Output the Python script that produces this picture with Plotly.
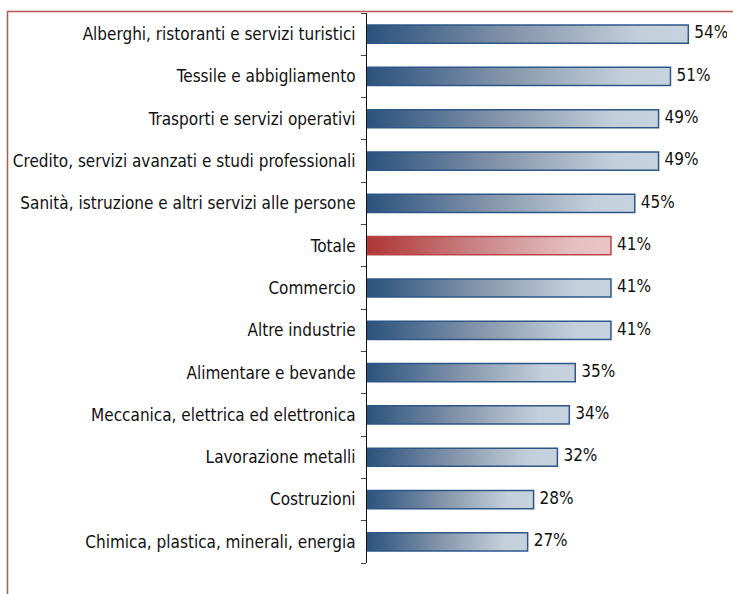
import plotly.graph_objects as go

categories = [
    "Alberghi, ristoranti e servizi turistici",
    "Tessile e abbigliamento",
    "Trasporti e servizi operativi",
    "Credito, servizi avanzati e studi professionali",
    "Sanità, istruzione e altri servizi alle persone",
    "Totale",
    "Commercio",
    "Altre industrie",
    "Alimentare e bevande",
    "Meccanica, elettrica ed elettronica",
    "Lavorazione metalli",
    "Costruzioni",
    "Chimica, plastica, minerali, energia",
]
values = [54, 51, 49, 49, 45, 41, 41, 41, 35, 34, 32, 28, 27]
highlight = "Totale"

BLUE_GRAD = [[0, "#2b527e"], [0.45, "#8394aa"], [0.85, "#c3cfdb"], [1, "#c6d2de"]]
RED_GRAD = [[0, "#b03536"], [0.45, "#c98485"], [0.85, "#e5c0c1"], [1, "#e8c5c6"]]
BLUE_LINE = "#2e5788"
RED_LINE = "#bb4446"
FONT = "DejaVu Sans Condensed, DejaVu Sans, sans-serif"
half = 0.215

PLOT_L, PLOT_R, PLOT_T, PLOT_B = 367, 6, 13, 31
PW = 733 - PLOT_L - PLOT_R
PH = 594 - PLOT_T - PLOT_B

fig = go.Figure()
for i, (cat, v) in enumerate(zip(categories, values)):
    is_hl = cat == highlight
    fig.add_trace(go.Scatter(
        x=[0, v, v, 0, 0],
        y=[i - half, i - half, i + half, i + half, i - half],
        mode="lines",
        fill="toself",
        fillgradient=dict(type="horizontal", colorscale=RED_GRAD if is_hl else BLUE_GRAD, start=0, stop=v),
        line=dict(color=RED_LINE if is_hl else BLUE_LINE, width=1.5),
        hoverinfo="skip",
        showlegend=False,
        yaxis="y",
    ))

fig.add_trace(go.Scatter(
    x=values,
    y=list(range(len(values))),
    mode="markers+text",
    marker=dict(size=8, opacity=0),
    text=[f"{v}%" for v in values],
    textposition="middle right",
    textfont=dict(family=FONT, size=17, color="#111111"),
    showlegend=False,
    hoverinfo="skip",
))

n = len(categories)
fig.update_layout(
    width=733,
    height=594,
    margin=dict(l=PLOT_L, r=PLOT_R, t=PLOT_T, b=PLOT_B),
    paper_bgcolor="white",
    plot_bgcolor="white",
    xaxis=dict(range=[0, 60.5], visible=False, fixedrange=True),
    yaxis=dict(
        range=[n - 0.5, -0.5],
        tickvals=list(range(n)),
        ticktext=categories,
        ticks="outside",
        ticklen=7,
        tickcolor="rgba(0,0,0,0)",
        showgrid=False,
        zeroline=False,
        showline=False,
        tickfont=dict(family=FONT, size=17, color="#111111"),
    ),
    yaxis2=dict(
        overlaying="y",
        side="left",
        range=[n - 0.5, -0.5],
        tickvals=[k - 0.5 for k in range(n + 1)],
        showticklabels=False,
        ticks="outside",
        ticklen=5,
        tickcolor="#444444",
        showline=True,
        linecolor="#111111",
        linewidth=1,
        showgrid=False,
        zeroline=False,
    ),
    shapes=[dict(
        type="rect", xref="paper", yref="paper",
        x0=(7.5 - PLOT_L) / PW, x1=2, y0=-1, y1=(594 - PLOT_B - 11.5) / PH,
        line=dict(color="#b95552", width=1.5),
        fillcolor="rgba(0,0,0,0)",
        layer="above",
    )],
)
fig.add_trace(go.Scatter(x=[None], y=[None], yaxis="y2", showlegend=False, hoverinfo="skip"))

fig.write_html("out.html")
